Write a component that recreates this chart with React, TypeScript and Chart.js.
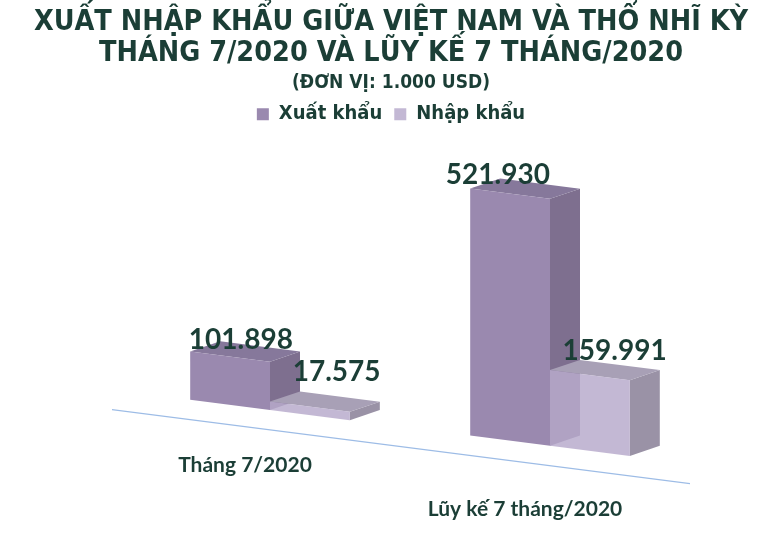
import React, { useEffect, useRef } from "react";
import { Chart, registerables } from "chart.js";

Chart.register(...registerables);

const titleLines = [
  "XUẤT NHẬP KHẨU GIỮA VIỆT NAM VÀ THỔ NHĨ KỲ",
  "THÁNG 7/2020 VÀ LŨY KẾ 7 THÁNG/2020",
];
const subtitleText = "(ĐƠN VỊ: 1.000 USD)";
const categories = ["Tháng 7/2020", "Lũy kế 7 tháng/2020"];
const seriesNames = ["Xuất khẩu", "Nhập khẩu"];
const exportValues = [101898, 521930];
const importValues = [17575, 159991];

const TEXT_DARK = "#1B3E36";
const SKEW = 0.128;
const LABEL_SKEW = 0.158;
const DEPTH_X = 30;
const DEPTH_Y = -14;

const faceColors = [
  { top: "#86789B", side: "#7E6F8F" },
  { top: "#A8A0B6", side: "#9A92A6" },
];
// label offsets at the near (left) and far (right) end of the plot, for a perspective feel
const labelOffsets = [
  { x0: 19, x1: -27, y0: -16, y1: -20 },
  { x0: 28, x1: 24, y0: -41, y1: -21 },
];

function fmt(v: number): string {
  return String(v).replace(/\B(?=(\d{3})+(?!\d))/g, ".");
}

const threeDPlugin = {
  id: "threeD",
  beforeDatasetsDraw(chart: any) {
    const ctx = chart.ctx;
    const area = chart.chartArea;
    const x0 = area.left;
    const base = chart.scales.y.getPixelForValue(0);
    ctx.save();
    ctx.transform(1, SKEW, 0, 1, 0, -SKEW * x0);
    // floor front edge
    ctx.strokeStyle = "#9DBCE6";
    ctx.lineWidth = 1.2;
    ctx.beginPath();
    ctx.moveTo(area.left - 18, base + 20);
    ctx.lineTo(area.right, base + 20);
    ctx.stroke();
    chart.data.datasets.forEach((_ds: any, di: number) => {
      const meta = chart.getDatasetMeta(di);
      meta.data.forEach((bar: any) => {
        const p = bar.getProps(["x", "y", "base", "width"], true);
        const l = p.x - p.width / 2;
        const r = p.x + p.width / 2;
        const t = p.y;
        const b = p.base;
        // side face
        ctx.fillStyle = faceColors[di].side;
        ctx.beginPath();
        ctx.moveTo(r, t);
        ctx.lineTo(r + DEPTH_X, t + DEPTH_Y);
        ctx.lineTo(r + DEPTH_X, b + DEPTH_Y);
        ctx.lineTo(r, b);
        ctx.closePath();
        ctx.fill();
        // top face
        ctx.fillStyle = faceColors[di].top;
        ctx.beginPath();
        ctx.moveTo(l, t);
        ctx.lineTo(l + DEPTH_X, t + DEPTH_Y);
        ctx.lineTo(r + DEPTH_X, t + DEPTH_Y);
        ctx.lineTo(r, t);
        ctx.closePath();
        ctx.fill();
      });
    });
  },
  afterDatasetsDraw(chart: any) {
    const ctx = chart.ctx;
    ctx.restore();
    const area = chart.chartArea;
    const x0 = area.left;
    const w = area.right - area.left;
    ctx.save();
    ctx.font = "bold 28px Lato, 'DejaVu Sans', sans-serif";
    ctx.fillStyle = TEXT_DARK;
    ctx.textAlign = "center";
    ctx.textBaseline = "middle";
    chart.data.datasets.forEach((ds: any, di: number) => {
      const meta = chart.getDatasetMeta(di);
      meta.data.forEach((bar: any, i: number) => {
        const p = bar.getProps(["x", "y"], true);
        const f = (p.x - x0) / w;
        const o = labelOffsets[di];
        const sx = p.x + o.x0 + (o.x1 - o.x0) * f;
        const sy = p.y + SKEW * (p.x - x0) + o.y0 + (o.y1 - o.y0) * f;
        ctx.fillText(fmt(ds.data[i]), sx, sy);
      });
    });
    ctx.restore();
  },
  afterDraw(chart: any) {
    const ctx = chart.ctx;
    const x0 = chart.chartArea.left;
    const base = chart.scales.y.getPixelForValue(0);
    const xs = chart.scales.x;
    ctx.save();
    ctx.font = "bold 21px Lato, 'DejaVu Sans', sans-serif";
    ctx.fillStyle = TEXT_DARK;
    ctx.textAlign = "center";
    ctx.textBaseline = "middle";
    (chart.data.labels as string[]).forEach((lab, i) => {
      const gx = xs.getPixelForValue(i) - 25;
      const gy = base + LABEL_SKEW * (gx - x0) + 55;
      ctx.fillText(lab, gx, gy);
    });
    ctx.restore();
  },
};

export default function App() {
  const ref = useRef<HTMLCanvasElement | null>(null);
  useEffect(() => {
    if (!ref.current) return;
    const condensed = "'Liberation Sans Narrow', 'Arial Narrow', 'DejaVu Sans Condensed', sans-serif";
    const chart = new Chart(ref.current, {
      type: "bar",
      data: {
        labels: categories,
        datasets: [
          {
            label: seriesNames[0],
            data: exportValues,
            backgroundColor: "#9A89AF",
            clip: false as any,
          },
          {
            label: seriesNames[1],
            data: importValues,
            backgroundColor: "rgba(185,172,205,0.85)",
            clip: false as any,
          },
        ],
      },
      options: {
        animation: false,
        responsive: true,
        maintainAspectRatio: false,
        layout: { padding: { left: 0, right: 0, top: 0, bottom: 150 } },
        datasets: { bar: { barPercentage: 1, categoryPercentage: 0.57 } },
        scales: {
          x: { display: false },
          y: {
            min: 0,
            max: 545000,
            position: "left",
            ticks: { display: false },
            grid: { display: false },
            border: { display: false },
            afterFit: (s: any) => {
              s.width = 130;
            },
          },
          y2: {
            position: "right",
            ticks: { display: false },
            grid: { display: false },
            border: { display: false },
            afterFit: (s: any) => {
              s.width = 92;
            },
          },
        },
        plugins: {
          title: {
            display: true,
            text: titleLines,
            color: TEXT_DARK,
            font: { family: condensed, size: 28.5, weight: "bold", lineHeight: 1.09 },
            padding: { top: 7, bottom: 2 },
          },
          subtitle: {
            display: true,
            text: subtitleText,
            color: TEXT_DARK,
            font: { family: condensed, size: 19, weight: "bold", lineHeight: 1.0 },
            padding: { top: 2, bottom: 0 },
          },
          legend: {
            display: true,
            labels: {
              color: TEXT_DARK,
              boxWidth: 12,
              boxHeight: 12,
              padding: 12,
              font: { family: condensed, size: 20, weight: "bold" },
            },
          },
          tooltip: { enabled: false },
        },
      },
      plugins: [threeDPlugin],
    });
    return () => chart.destroy();
  }, []);
  return (
    <div style={{ position: "fixed", left: 0, top: 0, width: 782, height: 542, background: "#fff" }}>
      <canvas ref={ref} />
    </div>
  );
}
